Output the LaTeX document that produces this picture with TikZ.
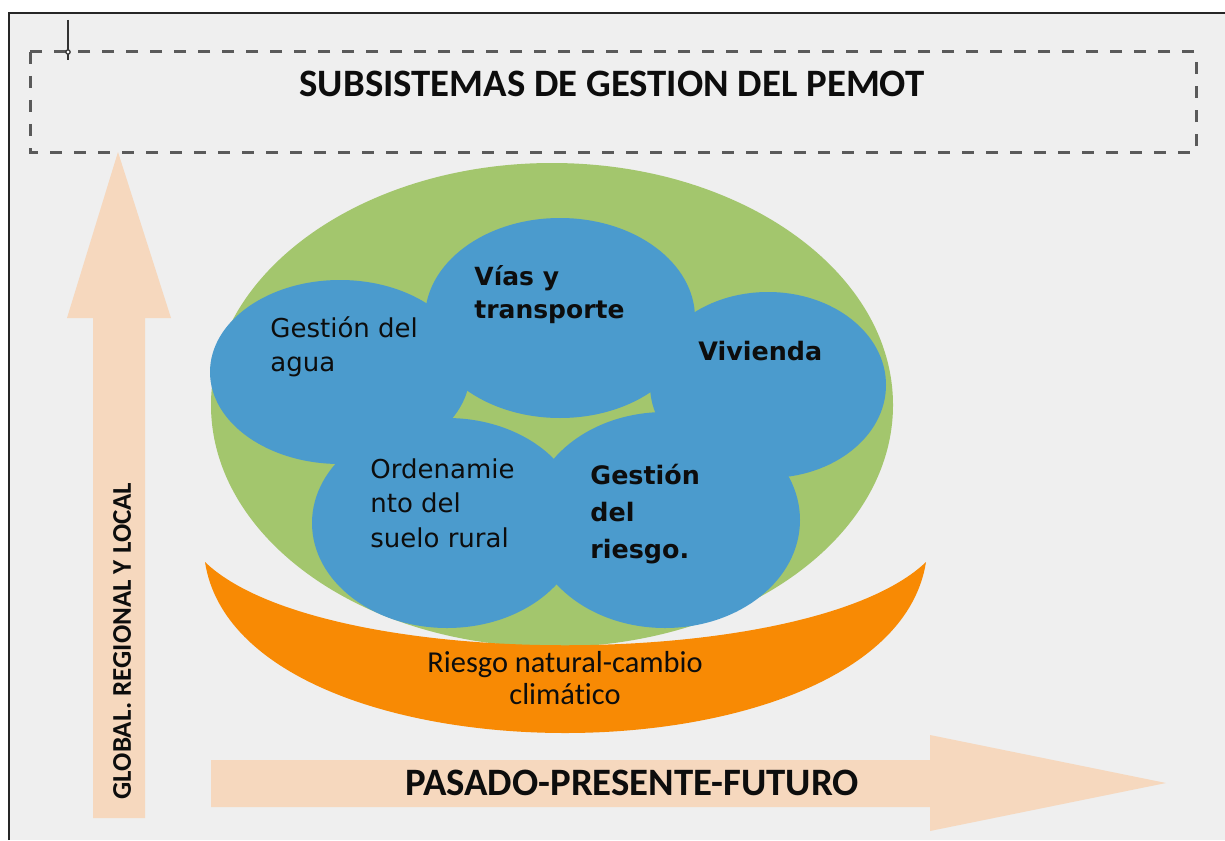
\documentclass[tikz,border=0pt]{standalone}
\usepackage{fontspec}
\setmainfont{Carlito}[Ligatures=NoCommon]
\newfontfamily\dejavu{DejaVu Sans}
\usetikzlibrary{shapes.geometric}

\definecolor{bggray}{HTML}{EFEFEF}
\definecolor{fieldgreen}{HTML}{A3C66D}
\definecolor{circblue}{HTML}{4B9BCD}
\definecolor{riskorange}{HTML}{F88A04}
\definecolor{peach}{HTML}{F6D8BE}
\definecolor{dashgray}{HTML}{5A5A5A}

\begin{document}
\begin{tikzpicture}[x=0.5pt,y=-0.5pt,
  every node/.style={inner sep=0pt, text=black!95},
  fieldnode/.style={ellipse, fill=fieldgreen},
  bluenode/.style={ellipse, fill=circblue},
  circtext/.style={font=\dejavu\fontsize{13}{17}\selectfont, align=left, anchor=base west},
  circbold/.style={circtext, font=\dejavu\bfseries\fontsize{12.5}{16.5}\selectfont},
  bigcaps/.style={font=\bfseries\fontsize{19.4}{23}\selectfont, anchor=base}
]
\useasboundingbox (0,0) rectangle (1225,840);

% the frame
\fill[white] (0,0) rectangle (1225,840);
\fill[bggray] (9,13) rectangle (1225,840);
\draw[line width=1.2pt, black!85] (9,840) -- (9,13) -- (1225,13);

% the title box
\draw[dashgray, line width=1.5pt, dash pattern=on 6pt off 6pt] (30,52) rectangle (1196,152);
\draw[line width=1pt, black!80] (68,20) -- (68,60);
\draw[black!80, fill=white, line width=0.6pt] (68,52) circle (2.2);
\node[bigcaps] (title) at (612,97) {SUBSISTEMAS DE GESTION DEL PEMOT};

% the two axes
\fill[peach] (93,818) -- (93,318) -- (67,318) -- (118,152) -- (171,318) -- (145,318) -- (145,818) -- cycle;
\fill[peach] (211,760) -- (930,760) -- (930,735) -- (1166,783) -- (930,831) -- (930,807) -- (211,807) -- cycle;
\node[font=\bfseries\fontsize{13.5}{16}\selectfont, rotate=90] (scale) at (122,641) {GLOBAL. REGIONAL Y LOCAL};
\node[bigcaps] (time) at (632,795) {PASADO-PRESENTE-FUTURO};

% the green field and the blue subsystems
\node[fieldnode, minimum width=341pt, minimum height=242pt] (field) at (552,405) {};
\node[bluenode, minimum width=130pt, minimum height=92pt] (agua) at (340,372) {};
\node[bluenode, minimum width=135pt, minimum height=100pt] (vias) at (560,318) {};
\node[bluenode, minimum width=118pt, minimum height=93pt] (vivienda) at (768,385) {};
\node[bluenode, minimum width=135pt, minimum height=105pt] (suelo) at (447,523) {};
\node[bluenode, minimum width=135pt, minimum height=108pt] (riesgo) at (665,520) {};

% the labels of the subsystems (base = last line)
\node[circtext] (agua-txt) at (270,371) {Gestión del\\agua};
\node[circbold] (vias-txt) at (474,318) {Vías y\\transporte};
\node[circbold, font=\dejavu\bfseries\fontsize{12.7}{16.5}\selectfont] (vivienda-txt) at (698,360) {Vivienda};
\node[circtext, font=\dejavu\fontsize{13}{17.25}\selectfont] (suelo-txt) at (370,547) {Ordenamie\\nto del\\suelo rural};
\node[circbold, font=\dejavu\bfseries\fontsize{12.7}{18.5}\selectfont] (riesgo-txt) at (590,558) {Gestión\\del\\riesgo.};

% the risk crescent
\fill[riskorange] (205,562) .. controls (320,673) and (810,673) .. (926,562)
  .. controls (890,790) and (240,790) .. (205,562) -- cycle;
\node[font=\fontsize{15.2}{16}\selectfont, align=center, anchor=base] (clima) at (565,704) {Riesgo natural-cambio\\climático};

\end{tikzpicture}
\end{document}
